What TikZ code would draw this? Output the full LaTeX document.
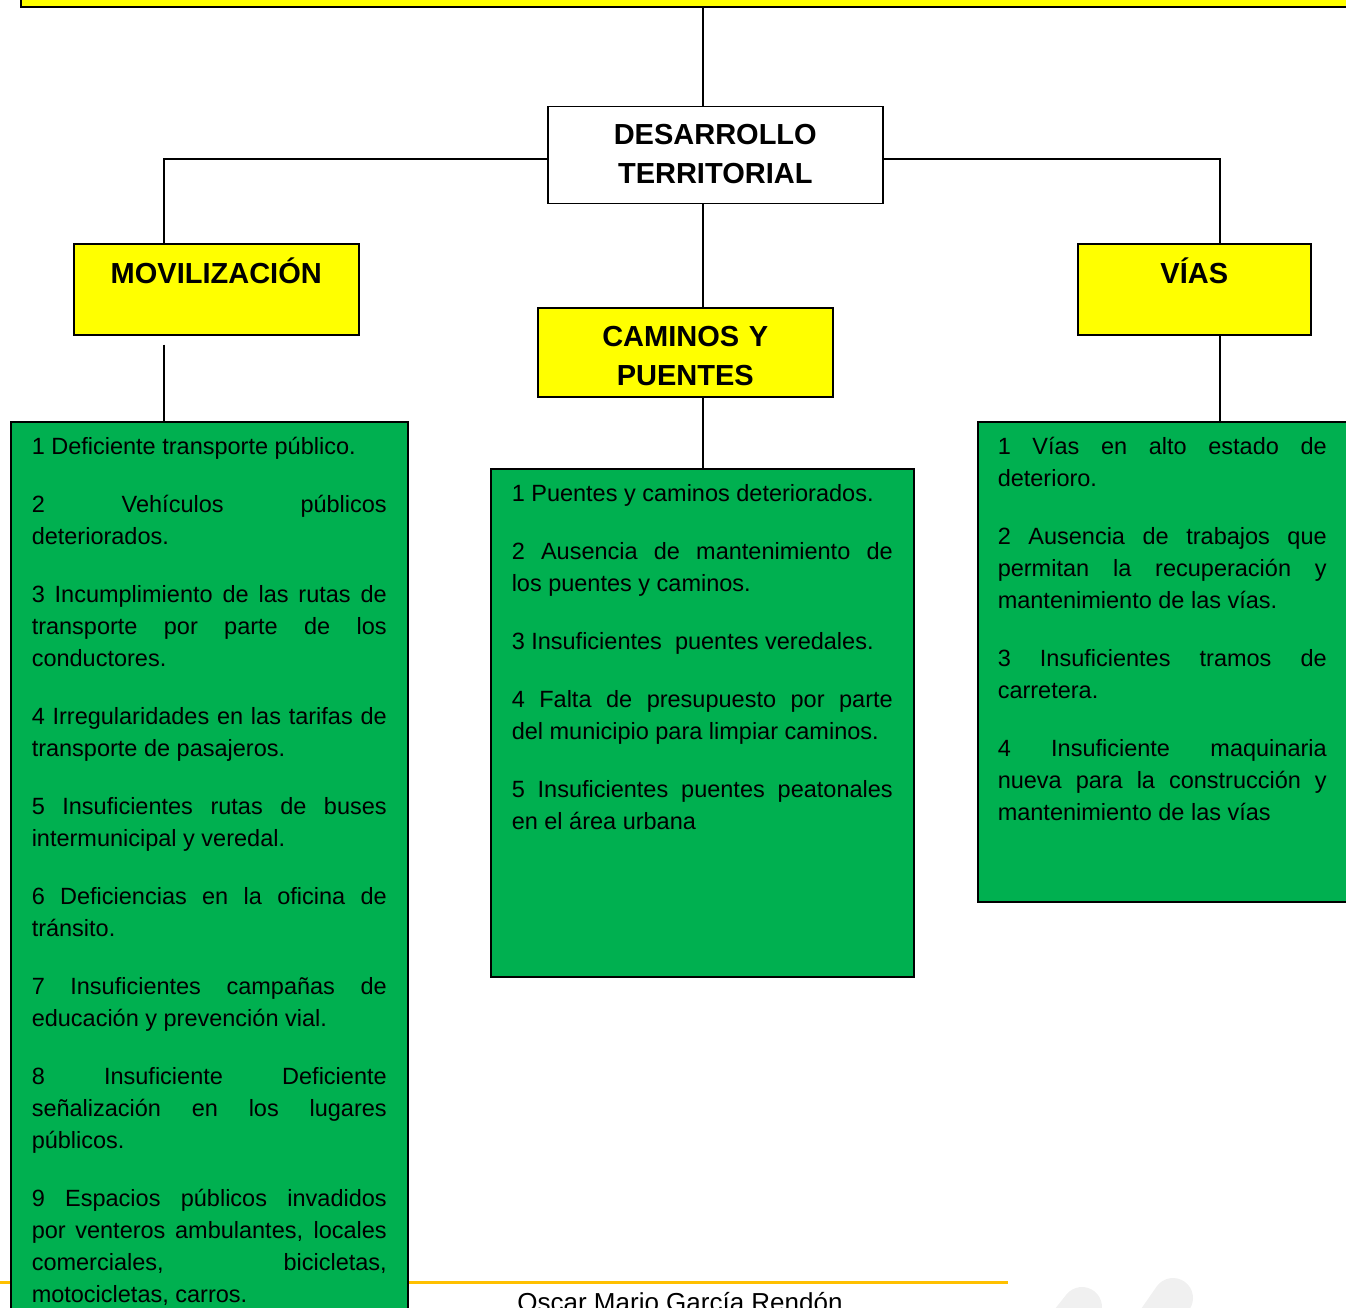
\documentclass[tikz,border=0pt]{standalone}
\usepackage{fontspec}
\setmainfont{Liberation Sans}
\usepackage{tikz}
\usepackage{xcolor}
\usetikzlibrary{positioning}

\definecolor{amarillo}{RGB}{255,255,0}
\definecolor{verde}{RGB}{0,176,80}
\definecolor{naranja}{RGB}{255,192,0}
\definecolor{marca}{RGB}{240,240,240}
\newcommand{\salto}{\par\vspace{26pt}}
\newcommand{\parrafos}[2]{\parbox[t]{#1}{\tolerance=10000 \hbadness=10000 \hyphenpenalty=10000 #2}}

\begin{document}
\begin{tikzpicture}[x=1pt, y=-1pt,
		caja/.style={draw, line width=1.5pt, anchor=north west, inner xsep=0pt, inner ysep=0pt, align=center, font=\bfseries\fontsize{29}{39}\selectfont},
		lista/.style={draw, line width=1.5pt, fill=verde, anchor=north west, inner xsep=21pt, inner ysep=0pt, text height=33pt, font=\fontsize{23.5}{32}\selectfont},
		linea/.style={line width=1.5pt}]
		\useasboundingbox (0,0) rectangle (1346,1308);
		% marca de agua y pie
		\draw[marca, line width=40pt, line cap=round] (1082,1307) -- (1040,1360);
		\draw[marca, line width=40pt, line cap=round] (1173,1298) -- (1130,1360);
		\draw[naranja, line width=3pt] (0,1282.5) -- (1008,1282.5);
		\node[font=\fontsize{26}{30}\selectfont, anchor=base] (autor) at (680,1311.5) {Oscar Mario García Rendón};
		% cajas
		\node[caja, fill=amarillo, anchor=south west, minimum width=1400pt, minimum height=40pt] (tema) at (20,8) {};
		\node[caja, fill=white, text width=335pt, text height=37.5pt, text depth=59.5pt] (des) at (547,106) {DESARROLLO\\TERRITORIAL};
		\node[caja, fill=amarillo, text width=285pt, text height=39.5pt, text depth=51.5pt] (mov) at (73,243) {MOVILIZACIÓN};
		\node[caja, fill=amarillo, text width=233pt, text height=39.5pt, text depth=51.5pt] (vias) at (1077,243) {VÍAS};
		\node[caja, fill=amarillo, text width=295pt, text height=38.5pt, text depth=50.5pt] (cam) at (537,307) {CAMINOS Y\\PUENTES};
		\node[lista, text depth=880pt] (lmov) at (10,421) {\parrafos{355pt}{1 Deficiente transporte público.\salto
			2 Vehículos públicos\linebreak deteriorados.\salto
			3 Incumplimiento de las rutas de\linebreak transporte por parte de los\linebreak conductores.\salto
			4 Irregularidades en las tarifas de\linebreak transporte de pasajeros.\salto
			5 Insuficientes rutas de buses\linebreak intermunicipal y veredal.\salto
			6 Deficiencias en la oficina de\linebreak tránsito.\salto
			7 Insuficientes campañas de\linebreak educación y prevención vial.\salto
			8 Insuficiente Deficiente\linebreak señalización en los lugares\linebreak públicos.\salto
			9 Espacios públicos invadidos\linebreak por venteros ambulantes, locales\linebreak comerciales, bicicletas,\linebreak motocicletas, carros.}};
		\node[lista, text depth=475pt] (lcam) at (490,468) {\parrafos{381pt}{1 Puentes y caminos deteriorados.\salto
			2 Ausencia de mantenimiento de\linebreak los puentes y caminos.\salto
			3 Insuficientes\ \ puentes veredales.\salto
			4 Falta de presupuesto por parte\linebreak del municipio para limpiar caminos.\salto
			5 Insuficientes puentes peatonales\linebreak en el área urbana}};
		\node[lista, inner xsep=20pt, text depth=447pt] (lvias) at (977,421) {\parrafos{369pt}{\rightskip=40pt\relax
			1 Vías en alto estado de\linebreak deterioro.\salto
			2 Ausencia de trabajos que\linebreak permitan la recuperación y\linebreak mantenimiento de las vías.\salto
			3 Insuficientes tramos de\linebreak carretera.\salto
			4 Insuficiente maquinaria\linebreak nueva para la construcción y\linebreak mantenimiento de las vías}};
		% conectores
		\coordinate (ejeM) at (164,0);
		\coordinate (ejeC) at (703,0);
		\coordinate (ejeV) at (1220,0);
		\coordinate (ramal) at (0,159);
		\coordinate (corte) at ([yshift=-9pt]mov.south);
		\draw[linea] (tema.south -| ejeC) -- (des.north -| ejeC);
		\draw[linea] (des.west |- ramal) -| (mov.north -| ejeM);
		\draw[linea] (des.east |- ramal) -| (vias.north -| ejeV);
		\draw[linea] (des.south -| ejeC) -- (cam.north -| ejeC);
		\draw[linea] (corte -| ejeM) -- (lmov.north -| ejeM);
		\draw[linea] (cam.south -| ejeC) -- (lcam.north -| ejeC);
		\draw[linea] (vias.south -| ejeV) -- (lvias.north -| ejeV);
	\end{tikzpicture}
\end{document}
